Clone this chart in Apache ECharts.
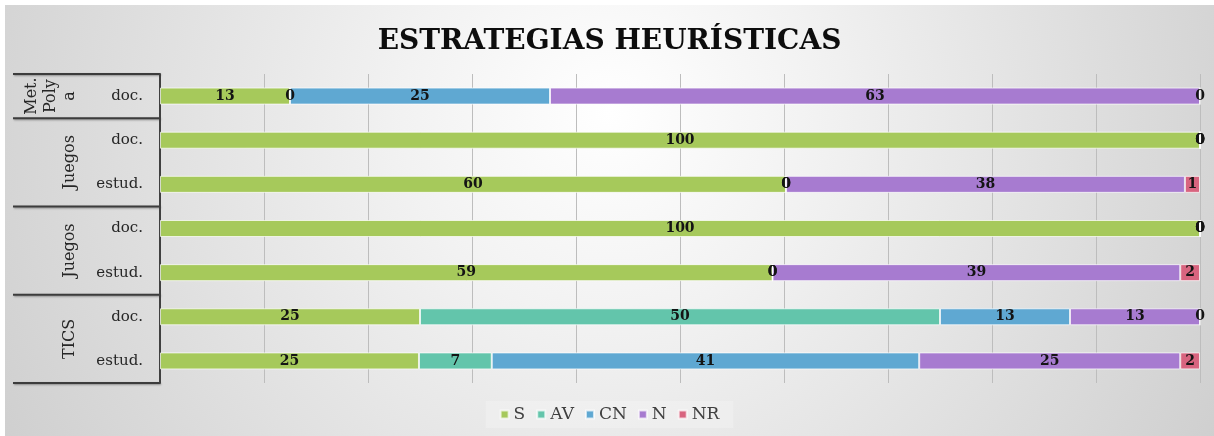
<!DOCTYPE html>
<html>
<head>
<meta charset="utf-8">
<script src="https://cdn.jsdelivr.net/npm/echarts@6/dist/echarts.min.js"></script>
<style>
html, body { margin: 0; padding: 0; background: #fff; }
#main { position: absolute; left: 5px; top: 5px; width: 1209px; height: 431px; }
</style>
</head>
<body>
<div id="main"></div>
<script>
// filas (de arriba a abajo) y grupos
var rowLabels = ['doc.', 'doc.', 'estud.', 'doc.', 'estud.', 'doc.', 'estud.'];
var groupNames = ['Met.\nPoly\na', 'Juegos', 'Juegos', 'TICS'];
var groupSizes = [1, 2, 2, 2];

// porcentajes
var seriesNames = ['S', 'AV', 'CN', 'N', 'NR'];
var valS  = [12.5, 100, 60.2, 100, 58.9, 25, 24.9];
var valAV = [0, 0, 0, 0, 0, 50, 7];
var valCN = [25, 0, 0, 0, 0, 12.5, 41.1];
var valN  = [62.5, 0, 38.35, 0, 39.2, 12.5, 25.1];
var valNR = [0, 0, 1.45, 0, 1.9, 0, 1.9];
var colors = ['#a6c95b', '#63c5ab', '#5fa8d2', '#a77bd0', '#d8647f'];

var serif = '"DejaVu Serif", serif';

var chart = echarts.init(document.getElementById('main'));
var allData = [valS, valAV, valCN, valN, valNR];

var option = {};
option['backgroundColor'] = {
    type: 'radial', x: 0.5, y: 0.25, r: 1.6,
    colorStops: [
        {offset: 0, color: '#ffffff'},
        {offset: 0.3, color: '#f2f2f2'},
        {offset: 1, color: '#cfcfcf'}
    ]
};
option['title'] = {
    text: 'ESTRATEGIAS HEURÍSTICAS',
    left: 'center',
    top: 18,
    textStyle: {fontFamily: serif, fontWeight: 'bold', fontSize: 28, color: '#0d0d0d'}
};
option['legend'] = {
    data: seriesNames,
    bottom: 8,
    left: 'center',
    icon: 'rect',
    itemWidth: 8,
    itemHeight: 8,
    itemGap: 11,
    padding: [5, 14],
    backgroundColor: 'rgba(255,255,255,0.22)',
    textStyle: {fontFamily: serif, fontSize: 17, color: '#404040'}
};
option['grid'] = {left: 155, right: 14, top: 69, bottom: 53};
option['xAxis'] = {
    type: 'value',
    min: 0,
    max: 100,
    interval: 10,
    axisLabel: {show: false},
    axisLine: {show: false},
    axisTick: {show: false},
    splitLine: {lineStyle: {color: '#bdbdbd', width: 1}}
};
option['yAxis'] = {
    type: 'category',
    inverse: true,
    data: rowLabels,
    axisLine: {lineStyle: {color: '#404040', width: 2}},
    axisTick: {show: false},
    axisLabel: {margin: 17, fontFamily: serif, fontSize: 15, color: '#262626'}
};
option['series'] = [];
for (var i = 0; i < seriesNames.length; i++) {
    option['series'].push({
        name: seriesNames[i],
        type: 'bar',
        stack: 'total',
        barWidth: 17,
        data: allData[i],
        itemStyle: {color: colors[i], borderColor: 'rgba(255,255,255,0.7)', borderWidth: 1},
        label: {
            show: true,
            position: 'inside',
            formatter: function (p) { return Math.round(p.value); },
            fontFamily: serif,
            fontWeight: 'bold',
            fontSize: 14,
            color: '#141414'
        }
    });
}
chart.setOption(option);

// tabla de grupos a la izquierda
function drawTable() {
    var c0 = chart.convertToPixel({yAxisIndex: 0}, 0);
    var c1 = chart.convertToPixel({yAxisIndex: 0}, 1);
    var band = c1 - c0;
    var xL = 8, xR = 155;
    var lineStyle = {
        stroke: '#3c3c3c', lineWidth: 2,
        shadowBlur: 2, shadowColor: 'rgba(0,0,0,0.35)', shadowOffsetX: 1, shadowOffsetY: 1
    };
    var els = [];
    var top = c0 - band / 2;
    els.push({type: 'line', shape: {x1: xL, y1: top, x2: xR, y2: top}, style: lineStyle});
    var idx = 0;
    for (var g = 0; g < groupNames.length; g++) {
        var gTop = chart.convertToPixel({yAxisIndex: 0}, idx) - band / 2;
        var gBot = gTop + groupSizes[g] * band;
        els.push({
            type: 'text',
            x: 74,
            y: (gTop + gBot) / 2,
            rotation: Math.PI / 2,
            style: {
                text: groupNames[g],
                font: '16px ' + serif,
                fill: '#262626',
                align: 'center',
                verticalAlign: 'bottom',
                lineHeight: 19
            }
        });
        els.push({type: 'line', shape: {x1: xL, y1: gBot, x2: xR, y2: gBot}, style: lineStyle});
        idx += groupSizes[g];
    }
    chart.setOption({graphic: els});
}
drawTable();
window.addEventListener('resize', function () {
    chart.resize();
    drawTable();
});
</script>
</body>
</html>
